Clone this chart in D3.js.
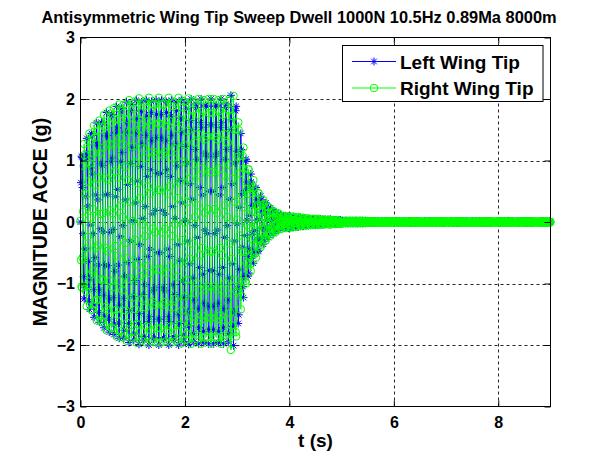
<!DOCTYPE html>
<html>
<head>
<meta charset="utf-8">
<script src="https://d3js.org/d3.v7.min.js"></script>
<style>
  body { margin: 0; background: #fff; }
  svg { display: block; }
  text { font-family: "Liberation Sans", Arial, sans-serif; font-weight: bold; fill: #000; }
</style>
</head>
<body>
<svg id="chart" width="594" height="452"></svg>
<script>
// Flight test record: antisymmetric sweep-dwell excitation at the wing tips
const chartTitle = "Antisymmetric Wing Tip Sweep Dwell 1000N 10.5Hz 0.89Ma 8000m";
const xLabel = "t (s)";
const yLabel = "MAGNITUDE ACCE (g)";
const xTicks = [0, 2, 4, 6, 8];
const yTicks = [-3, -2, -1, 0, 1, 2, 3];
const seriesNames = ["Left Wing Tip", "Right Wing Tip"];
const sampleInterval = 0.01; // seconds between samples, record starts at t = 0

// Left wing tip acceleration (g), one row per 0.1 s
const leftWingTip = [
  0, 0.64, 1.07, 1.05, 0.56, -0.19, -0.89, -1.25, -1.07, -0.44,
  0.41, 1.11, 1.36, 1.04, 0.26, -0.64, -1.29, -1.42, -0.93, -0.05,
  0.88, 1.44, 1.41, 0.78, -0.19, -1.10, -1.55, -1.35, -0.58, 0.44,
  1.29, 1.61, 1.25, 0.36, -0.70, -1.47, -1.63, -1.10, -0.11, 0.95,
  1.62, 1.61, 0.92, -0.16, -1.19, -1.72, -1.53, -0.70, 0.44, 1.40,
  1.78, 1.41, 0.45, -0.71, -1.58, -1.79, -1.25, -0.17, 0.98, 1.73,
  1.75, 1.04, -0.12, -1.23, -1.83, -1.66, -0.80, 0.41, 1.45, 1.88,
  1.53, 0.53, -0.70, -1.64, -1.89, -1.35, -0.24, 0.98, 1.79, 1.85,
  1.13, -0.06, -1.24, -1.89, -1.76, -0.88, 0.36, 1.46, 1.95, 1.62,
  0.61, -0.66, -1.65, -1.96, -1.44, -0.31, 0.95, 1.81, 1.91, 1.21,
  0.02, -1.21, -1.92, -1.82, -0.95, 0.31, 1.45, 1.98, 1.68, 0.67,
  -0.61, -1.65, -1.99, -1.49, -0.37, 0.90, 1.80, 1.95, 1.27, 0.06,
  -1.18, -1.92, -1.86, -1.02, 0.25, 1.41, 1.98, 1.72, 0.74, -0.56,
  -1.62, -2.00, -1.54, -0.44, 0.85, 1.78, 1.96, 1.32, 0.13, -1.12,
  -1.90, -1.88, -1.07, 0.19, 1.37, 1.98, 1.75, 0.79, -0.50, -1.58,
  -2.00, -1.58, -0.50, 0.79, 1.75, 1.98, 1.37, 0.19, -1.07, -1.88,
  -1.90, -1.12, 0.13, 1.32, 1.96, 1.78, 0.85, -0.44, -1.54, -2.00,
  -1.62, -0.56, 0.74, 1.72, 1.98, 1.41, 0.25, -1.02, -1.86, -1.92,
  -1.18, 0.06, 1.27, 1.95, 1.81, 0.91, -0.37, -1.50, -2.00, -1.65,
  -0.62, 0.68, 1.69, 1.99, 1.46, 0.31, -0.96, -1.84, -1.94, -1.23,
  0.03, 1.23, 1.94, 1.84, 0.96, -0.31, -1.46, -1.99, -1.69, -0.68,
  0.62, 1.65, 2.00, 1.50, 0.37, -0.91, -1.81, -1.95, -1.27, -0.06,
  1.18, 1.92, 1.86, 1.02, -0.25, -1.41, -1.98, -1.72, -0.74, 0.56,
  1.62, 2.00, 1.54, 0.44, -0.85, -1.78, -1.96, -1.32, -0.13, 1.12,
  1.90, 1.88, 1.07, -0.19, -1.37, -1.98, -1.75, -0.79, 0.50, 1.58,
  2.00, 1.58, 0.50, -0.79, -1.75, -1.98, -1.37, -0.19, 1.07, 1.88,
  1.90, 1.12, -0.13, -1.32, -1.96, -1.78, -0.85, 0.44, 1.54, 2.00,
  1.62, 0.56, -0.74, -1.72, -1.98, -1.41, -0.25, 1.02, 1.86, 1.92,
  1.18, -0.06, -1.27, -1.95, -1.81, -0.91, 0.37, 1.50, 2.06, 1.66,
  0.62, -0.68, -1.70, -2.01, -1.46, -0.31, 0.96, 1.81, 1.88, 1.15,
  -0.03, -1.08, -1.65, -1.51, -0.77, 0.24, 1.09, 1.44, 1.18, 0.46,
  -0.41, -1.05, -1.23, -0.89, -0.22, 0.51, 0.99, 1.02, 0.65, 0.03,
  -0.56, -0.88, -0.83, -0.44, 0.11, 0.57, 0.78, 0.65, 0.27, -0.20,
  -0.56, -0.67, -0.50, -0.14, 0.26, 0.53, 0.56, 0.36, 0.03, -0.29,
  -0.48, -0.46, -0.25, 0.04, 0.30, 0.42, 0.36, 0.16, -0.10, -0.29,
  -0.36, -0.28, -0.08, 0.13, 0.28, 0.31, 0.21, 0.03, -0.15, -0.25,
  -0.25, -0.14, 0.02, 0.16, 0.23, 0.20, 0.09, -0.05, -0.15, -0.19,
  -0.15, -0.05, 0.07, 0.15, 0.16, 0.11, 0.02, -0.08, -0.13, -0.13,
  -0.08, 0.00, 0.08, 0.12, 0.11, 0.05, -0.02, -0.08, -0.10, -0.08,
  -0.03, 0.04, 0.09, 0.10, 0.07, 0.02, -0.05, -0.09, -0.10, -0.06,
  0.00, 0.06, 0.09, 0.08, 0.04, -0.01, -0.07, -0.09, -0.08, -0.03,
  0.02, 0.07, 0.08, 0.06, 0.01, -0.04, -0.07, -0.08, -0.05, 0.00,
  0.04, 0.07, 0.07, 0.04, -0.01, -0.05, -0.07, -0.06, -0.03, 0.02,
  0.05, 0.06, 0.05, 0.01, -0.03, -0.05, -0.06, -0.04, 0.00, 0.03,
  0.05, 0.05, 0.03, -0.01, -0.04, -0.05, -0.05, -0.02, 0.01, 0.04,
  0.05, 0.04, 0.01, -0.02, -0.04, -0.05, -0.03, 0.00, 0.03, 0.05,
  0.04, 0.03, 0.00, -0.03, -0.04, -0.04, -0.02, 0.01, 0.03, 0.04,
  0.03, 0.01, -0.01, -0.03, -0.04, -0.03, -0.01, 0.02, 0.04, 0.04,
  0.02, 0.00, -0.02, -0.03, -0.03, -0.02, 0.01, 0.03, 0.03, 0.03,
  0.01, -0.01, -0.03, -0.03, -0.02, 0.00, 0.01, 0.03, 0.03, 0.02,
  0, .01, .02, .02, .01, 0, -.01, -.02, -.02, -.01,
  .01, .02, .02, .01, 0, -.01, -.02, -.02, -.01, 0,
  .01, .02, .02, .01, 0, -.01, -.02, -.02, -.01, .01,
  .02, .02, .01, 0, -.01, -.02, -.02, -.01, 0, .01,
  .02, .02, .01, 0, -.01, -.01, -.02, -.01, 0, .01,
  .01, .01, 0, -.01, -.01, -.01, 0, .01, .01, 0,
  -.01, -.01, -.01, 0, .01, .01, .01, 0, -.01, -.01,
  0, .01, .01, 0, -.01, -.01, 0, 0, .01, .01,
  0, 0, .01, 0, 0, -.01, 0, 0, .01, 0,
  .01, .01, 0, -.01, -.01, 0, 0, .01, .01, 0,
  -.01, -.01, 0, 0, .01, .01, 0, 0, -.01, -.01,
  0, .01, .01, 0, -.01, -.01, 0, 0, .01, .01,
  0, 0, .01, 0, 0, -.01, 0, 0, .01, 0,
  .01, .01, 0, -.01, -.01, -.01, 0, .01, .01, 0,
  -.01, -.01, -.01, 0, .01, .01, .01, 0, -.01, -.01,
  0, .01, .01, 0, -.01, -.01, 0, 0, .01, .01,
  0, 0, .01, 0, 0, -.01, 0, 0, .01, 0,
  .01, .01, 0, -.01, -.01, 0, 0, .01, .01, 0,
  -.01, -.01, 0, 0, .01, .01, 0, 0, -.01, -.01,
  0, .01, .01, .01, 0, -.01, -.01, -.01, 0, .01,
  0, 0, .01, 0, 0, -.01, 0, 0, .01, 0,
  .01, .01, 0, -.01, -.01, -.01, 0, .01, .01, 0,
  -.01, -.01, -.01, 0, .01, .01, .01, 0, -.01, -.01,
  0, .01, .01, 0, -.01, -.01, 0, 0, .01, .01,
  0, 0, .01, 0, 0, -.01, 0, 0, .01, 0,
  .01, .01, 0, -.01, -.01, 0, 0, .01, .01, 0,
  -.01, -.01, 0, 0, .01, .01, 0, 0, -.01, -.01,
  0, .01, .01, .01, 0, -.01, -.01, -.01, 0, .01,
  .01, .01, 0, -.01, -.01, -.01, 0, .01, .01, 0,
  0, 0, .01, 0, 0, -.01, 0, 0, .01, 0,
  -.01, -.01, -.01, 0, .01, .01, .01, 0, -.01, -.01,
  0, .01, .01, 0, -.01, -.01, 0, 0, .01, .01,
  .01, .01, 0, -.01, -.01, 0, 0, .01, .01, 0,
  0, 0, .01, 0, 0, -.01, 0, 0, .01, 0,
  -.01, -.01, 0, 0, .01, .01, 0, 0, -.01, -.01,
  0, .01, .01, .01, 0, -.01, -.01, -.01, 0, .01,
  .01, .01, 0, -.01, -.01, -.01, 0, .01, .01, 0,
  0, 0, .01, 0, 0, -.01, 0, 0, .01, 0,
  -.01, -.01, -.01, 0, .01, .01, .01, 0, -.01, -.01,
  0, .01, .01, 0, -.01, -.01, 0, 0, .01, .01,
  0
];

// Right wing tip acceleration (g), one row per 0.1 s
const rightWingTip = [
  0.02, -0.62, -1.05, -1.07, -0.58, 0.17, 0.91, 1.27, 1.09, 0.46,
  -0.43, -1.13, -1.37, -1.03, -0.24, 0.66, 1.31, 1.44, 0.95, 0.07,
  -0.86, -1.42, -1.43, -0.80, 0.21, 1.12, 1.57, 1.37, 0.60, -0.42,
  -1.27, -1.60, -1.27, -0.38, 0.72, 1.49, 1.65, 1.12, 0.13, -0.93,
  -1.60, -1.63, -0.94, 0.14, 1.21, 1.74, 1.55, 0.72, -0.42, -1.38,
  -1.76, -1.43, -0.47, 0.69, 1.60, 1.81, 1.27, 0.19, -0.96, -1.71,
  -1.73, -1.06, 0.14, 1.25, 1.85, 1.68, 0.82, -0.39, -1.43, -1.86,
  -1.51, -0.55, 0.72, 1.66, 1.91, 1.37, 0.26, -0.96, -1.77, -1.87,
  -1.11, 0.08, 1.26, 1.91, 1.78, 0.90, -0.34, -1.44, -1.93, -1.64,
  -0.59, 0.68, 1.67, 1.98, 1.46, 0.33, -0.93, -1.79, -1.89, -1.23,
  0.02, 1.23, 1.94, 1.84, 0.97, -0.29, -1.42, -1.96, -1.66, -0.69,
  0.63, 1.67, 2.01, 1.51, 0.39, -0.88, -1.78, -1.93, -1.25, -0.04,
  1.20, 1.94, 1.88, 1.04, -0.23, -1.39, -1.96, -1.70, -0.72, 0.58,
  1.64, 2.02, 1.56, 0.46, -0.83, -1.76, -1.94, -1.30, -0.11, 1.14,
  1.92, 1.90, 1.09, -0.17, -1.35, -1.96, -1.73, -0.77, 0.52, 1.60,
  2.02, 1.60, 0.52, -0.77, -1.73, -1.96, -1.35, -0.17, 1.09, 1.90,
  1.92, 1.14, -0.11, -1.30, -1.94, -1.76, -0.83, 0.46, 1.56, 2.02,
  1.64, 0.58, -0.72, -1.70, -1.96, -1.39, -0.23, 1.04, 1.88, 1.94,
  1.20, -0.04, -1.25, -1.93, -1.79, -0.89, 0.39, 1.52, 2.02, 1.67,
  0.64, -0.66, -1.67, -1.97, -1.44, -0.29, 0.98, 1.86, 1.96, 1.25,
  -0.01, -1.21, -1.92, -1.82, -0.94, 0.33, 1.48, 2.01, 1.71, 0.70,
  -0.60, -1.63, -1.98, -1.48, -0.35, 0.93, 1.83, 1.97, 1.29, 0.08,
  -1.16, -1.90, -1.84, -1.00, 0.27, 1.43, 2.00, 1.74, 0.76, -0.54,
  -1.60, -1.98, -1.52, -0.42, 0.87, 1.80, 1.98, 1.34, 0.15, -1.10,
  -1.88, -1.86, -1.05, 0.21, 1.39, 2.00, 1.77, 0.81, -0.48, -1.56,
  -1.98, -1.56, -0.48, 0.81, 1.77, 2.00, 1.39, 0.21, -1.05, -1.86,
  -1.88, -1.10, 0.15, 1.34, 1.98, 1.80, 0.87, -0.42, -1.52, -1.98,
  -1.60, -0.54, 0.76, 1.74, 2.00, 1.43, 0.27, -1.00, -1.84, -1.90,
  -1.16, 0.08, 1.29, 1.97, 1.83, 0.93, -0.35, -1.48, -2.08, -1.68,
  -0.60, 0.70, 1.72, 2.05, 1.50, 0.33, -0.94, -1.79, -1.86, -1.13,
  0.04, 1.06, 1.62, 1.49, 0.79, -0.22, -1.06, -1.42, -1.20, -0.48,
  0.43, 1.07, 1.21, 0.87, 0.24, -0.49, -0.96, -1.00, -0.67, -0.05,
  0.54, 0.86, 0.85, 0.46, -0.10, -0.55, -0.80, -0.67, -0.28, 0.18,
  0.55, 0.68, 0.51, 0.16, -0.25, -0.51, -0.58, -0.38, -0.04, 0.27,
  0.47, 0.47, 0.26, -0.02, -0.29, -0.41, -0.37, -0.17, 0.09, 0.28,
  0.35, 0.29, 0.09, -0.12, -0.27, -0.30, -0.22, -0.04, 0.14, 0.24,
  0.24, 0.15, -0.03, -0.17, -0.22, -0.19, -0.10, 0.04, 0.14, 0.18,
  0.16, 0.06, -0.06, -0.14, -0.16, -0.12, -0.03, 0.07, 0.13, 0.14,
  0.09, 0.01, -0.07, -0.11, -0.11, -0.06, 0.01, 0.07, 0.10, 0.09,
  0.04, -0.03, -0.09, -0.10, -0.07, -0.01, 0.05, 0.09, 0.09, 0.06,
  0.01, -0.05, -0.09, -0.08, -0.05, 0.02, 0.07, 0.09, 0.07, 0.03,
  -0.02, -0.07, -0.08, -0.06, -0.02, 0.04, 0.07, 0.08, 0.05, 0.01,
  -0.04, -0.07, -0.06, -0.04, 0.01, 0.05, 0.07, 0.06, 0.03, -0.02,
  -0.05, -0.06, -0.05, -0.02, 0.03, 0.05, 0.06, 0.04, 0.01, -0.03,
  -0.05, -0.05, -0.03, 0.00, 0.04, 0.05, 0.05, 0.02, -0.01, -0.04,
  -0.05, -0.04, -0.01, 0.02, 0.04, 0.05, 0.03, 0.01, -0.03, -0.05,
  -0.04, -0.03, 0.00, 0.03, 0.04, 0.04, 0.02, -0.01, -0.03, -0.04,
  -0.03, -0.01, 0.01, 0.03, 0.04, 0.03, 0.01, -0.02, -0.04, -0.04,
  -0.02, 0.00, 0.02, 0.03, 0.03, 0.02, -0.01, -0.03, -0.03, -0.03,
  -0.01, 0.01, 0.03, 0.03, 0.02, 0.00, -0.01, -0.03, -0.03, -0.02,
  0, -.01, -.02, -.02, -.01, 0, .01, .02, .02, .01,
  -.01, -.02, -.02, -.01, 0, .01, .02, .02, .01, 0,
  -.01, -.02, -.02, -.01, 0, .01, .02, .02, .01, -.01,
  -.02, -.02, -.01, 0, .01, .02, .02, .01, 0, -.01,
  -.02, -.02, -.01, 0, .01, .01, .02, .01, 0, -.01,
  -.01, -.01, 0, .01, .01, .01, 0, -.01, -.01, 0,
  .01, .01, .01, 0, -.01, -.01, -.01, 0, .01, .01,
  0, -.01, -.01, 0, .01, .01, 0, 0, -.01, -.01,
  0, -.01, -.01, -.01, 0, .01, .01, .01, 0, -.01,
  -.01, -.01, 0, .01, .01, 0, 0, -.01, -.01, 0,
  .01, .01, 0, 0, -.01, -.01, 0, 0, .01, .01,
  0, 0, -.01, 0, 0, .01, 0, 0, -.01, 0,
  0, -.01, -.01, 0, .01, .01, 0, 0, -.01, -.01,
  -.01, -.01, 0, .01, .01, .01, 0, -.01, -.01, 0,
  .01, .01, .01, 0, -.01, -.01, -.01, 0, .01, .01,
  0, 0, -.01, 0, 0, .01, 0, 0, -.01, 0,
  0, -.01, -.01, 0, .01, .01, 0, 0, -.01, -.01,
  -.01, -.01, 0, .01, .01, 0, 0, -.01, -.01, 0,
  .01, .01, 0, 0, -.01, -.01, 0, 0, .01, .01,
  0, -.01, -.01, -.01, 0, .01, .01, .01, 0, -.01,
  0, 0, -.01, 0, 0, .01, 0, 0, -.01, 0,
  -.01, -.01, 0, .01, .01, .01, 0, -.01, -.01, 0,
  .01, .01, .01, 0, -.01, -.01, -.01, 0, .01, .01,
  0, -.01, -.01, 0, .01, .01, 0, 0, -.01, -.01,
  0, 0, -.01, 0, 0, .01, 0, 0, -.01, 0,
  -.01, -.01, 0, .01, .01, 0, 0, -.01, -.01, 0,
  .01, .01, 0, 0, -.01, -.01, 0, 0, .01, .01,
  0, -.01, -.01, -.01, 0, .01, .01, .01, 0, -.01,
  -.01, -.01, 0, .01, .01, .01, 0, -.01, -.01, 0,
  0, 0, -.01, 0, 0, .01, 0, 0, -.01, 0,
  .01, .01, .01, 0, -.01, -.01, -.01, 0, .01, .01,
  0, -.01, -.01, 0, .01, .01, 0, 0, -.01, -.01,
  -.01, -.01, 0, .01, .01, 0, 0, -.01, -.01, 0,
  0, 0, -.01, 0, 0, .01, 0, 0, -.01, 0,
  .01, .01, 0, 0, -.01, -.01, 0, 0, .01, .01,
  0, -.01, -.01, -.01, 0, .01, .01, .01, 0, -.01,
  -.01, -.01, 0, .01, .01, .01, 0, -.01, -.01, 0,
  0, 0, -.01, 0, 0, .01, 0, 0, -.01, 0,
  .01, .01, .01, 0, -.01, -.01, -.01, 0, .01, .01,
  0, -.01, -.01, 0, .01, .01, 0, 0, -.01, -.01,
  0
];

const svg = d3.select("#chart");
svg.append("rect").attr("width", 594).attr("height", 452).attr("fill", "#fff");

const plot = { left: 80.5, right: 550.5, top: 37.5, bottom: 406.5 };
const x = d3.scaleLinear().domain([0, 9]).range([plot.left, plot.right]);
const y = d3.scaleLinear().domain([-3, 3]).range([plot.bottom, plot.top]);

// dashed grid
const grid = svg.append("g").attr("stroke", "#222").attr("stroke-width", 1)
  .attr("stroke-dasharray", "3,3").attr("fill", "none");
grid.selectAll("line.gx").data(xTicks.filter(v => v > 0)).join("line")
  .attr("class", "gx")
  .attr("x1", d => Math.round(x(d)) + 0.5).attr("x2", d => Math.round(x(d)) + 0.5)
  .attr("y1", plot.bottom).attr("y2", plot.top);
grid.selectAll("line.gy").data(yTicks.filter(v => v > -3 && v < 3)).join("line")
  .attr("class", "gy")
  .attr("y1", d => Math.round(y(d)) + 0.5).attr("y2", d => Math.round(y(d)) + 0.5)
  .attr("x1", plot.left).attr("x2", plot.right);

// series: line plus a marker at every sample
const toPoints = arr => arr.map((v, i) => [i * sampleInterval, v]);
const series = [
  { name: seriesNames[0], color: "#0000ff", marker: "star", points: toPoints(leftWingTip) },
  { name: seriesNames[1], color: "#00ff00", marker: "circle", points: toPoints(rightWingTip) }
];
const line = d3.line().x(d => x(d[0])).y(d => y(d[1]));
const starPath = "M-4,0H4M0,-4V4M-2.8,-2.8L2.8,2.8M-2.8,2.8L2.8,-2.8";

function drawMarker(sel, s) {
  if (s.marker === "star") {
    sel.append("path").attr("d", starPath).attr("stroke", s.color).attr("stroke-width", 1).attr("fill", "none");
  } else {
    sel.append("circle").attr("r", 3.8).attr("stroke", s.color).attr("stroke-width", 1).attr("fill", "none");
  }
}

series.forEach(s => {
  const g = svg.append("g");
  g.append("path").datum(s.points).attr("d", line)
    .attr("fill", "none").attr("stroke", s.color).attr("stroke-width", 1);
  g.selectAll("g.m").data(s.points).join("g").attr("class", "m")
    .attr("transform", d => `translate(${x(d[0])},${y(d[1])})`)
    .each(function () { drawMarker(d3.select(this), s); });
});

// axes with inward ticks on all four sides
const tickLen = 6;
const fmt = d3.format("d");
const axB = svg.append("g").attr("transform", `translate(0,${plot.bottom})`)
  .call(d3.axisBottom(x).tickValues(xTicks).tickSizeInner(-tickLen).tickSizeOuter(0).tickPadding(10.5).tickFormat(fmt));
const axL = svg.append("g").attr("transform", `translate(${plot.left},0)`)
  .call(d3.axisLeft(y).tickValues(yTicks).tickSizeInner(-tickLen).tickSizeOuter(0).tickPadding(5.5).tickFormat(fmt));
const axT = svg.append("g").attr("transform", `translate(0,${plot.top})`)
  .call(d3.axisTop(x).tickValues(xTicks).tickSizeInner(-tickLen).tickSizeOuter(0).tickFormat(""));
const axR = svg.append("g").attr("transform", `translate(${plot.right},0)`)
  .call(d3.axisRight(y).tickValues(yTicks).tickSizeInner(-tickLen).tickSizeOuter(0).tickFormat(""));
[axB, axL, axT, axR].forEach(a => {
  a.select(".domain").remove();
  a.selectAll(".tick line").attr("stroke", "#000").attr("stroke-width", 1);
  a.selectAll("text").attr("font-size", 16).attr("font-family", null).attr("fill", "#000");
});
svg.append("rect")
  .attr("x", plot.left).attr("y", plot.top)
  .attr("width", plot.right - plot.left).attr("height", plot.bottom - plot.top)
  .attr("fill", "none").attr("stroke", "#000").attr("stroke-width", 1);

// title and axis labels
svg.append("text").attr("x", 299).attr("y", 23).attr("text-anchor", "middle")
  .attr("font-size", 16.4).text(chartTitle);
svg.append("text").attr("x", 315.5).attr("y", 447).attr("text-anchor", "middle")
  .attr("font-size", 19).text(xLabel);
svg.append("text").attr("transform", "translate(47,222) rotate(-90)").attr("text-anchor", "middle")
  .attr("font-size", 19.5).text(yLabel);

// legend
const legend = svg.append("g");
legend.append("rect").attr("x", 342.5).attr("y", 45.5).attr("width", 200.5).attr("height", 56)
  .attr("fill", "#fff").attr("stroke", "#000").attr("stroke-width", 1);
series.forEach((s, i) => {
  const ly = 61.5 + i * 26.5;
  const row = legend.append("g");
  row.append("line").attr("x1", 352).attr("x2", 396).attr("y1", ly).attr("y2", ly)
    .attr("stroke", s.color).attr("stroke-width", 1);
  drawMarker(row.append("g").attr("transform", `translate(374,${ly})`), s);
  row.append("text").attr("x", 400).attr("y", ly + 7).attr("font-size", 19).text(s.name);
});
</script>
</body>
</html>
